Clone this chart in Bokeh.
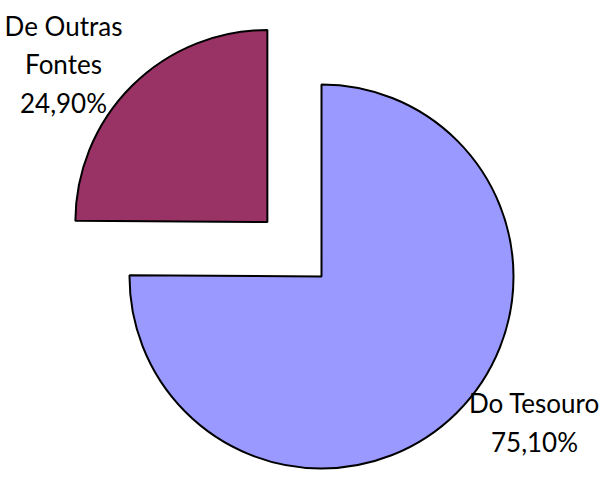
import math
from bokeh.plotting import figure
from bokeh.models import Range1d, ColumnDataSource
from bokeh.core.properties import value
from bokeh.embed import file_html
from bokeh.resources import INLINE

# ---- data ----
categories = ["Do Tesouro", "De Outras Fontes"]
label_lines = [["Do Tesouro"], ["De Outras", "Fontes"]]
percentages = [75.10, 24.90]
colors = ["#9999FF", "#993366"]
explode = [0.0, 0.40]          # fraction of radius

# ---- layout (pixels) ----
W, H = 600, 485
CX, CY = 321, 209              # pie centre (data units == pixels, y up)
R = 192
LINE_GAP = 38.5
# anchor of first label line (centre x, baseline y) for each slice
label_anchor = [(534, 44), (63, 460)]

p = figure(width=W, height=H, output_backend="svg", toolbar_location=None,
           x_range=Range1d(0, W), y_range=Range1d(0, H), min_border=0)
p.axis.visible = False
p.grid.visible = False
p.outline_line_color = None
p.background_fill_color = "white"
p.border_fill_color = "white"

total = sum(percentages)
start = math.pi / 2            # 12 o'clock, clockwise
xs, ys, sa, ea = [], [], [], []
angle = start
for pct, ex in zip(percentages, explode):
    sweep = 2 * math.pi * pct / total
    s_ang = angle - sweep
    e_ang = angle
    mid = (s_ang + e_ang) / 2
    xs.append(CX + ex * R * math.cos(mid))
    ys.append(CY + ex * R * math.sin(mid))
    sa.append(s_ang)
    ea.append(e_ang)
    angle = s_ang

src = ColumnDataSource(dict(x=xs, y=ys, start=sa, end=ea, color=colors, cat=categories))
p.wedge(x="x", y="y", radius=R, start_angle="start", end_angle="end",
        fill_color="color", line_color="black", line_width=2, source=src)

tx, ty, tt = [], [], []
for lines, pct, (ax, ay) in zip(label_lines, percentages, label_anchor):
    all_lines = lines + [f"{pct:.2f}%".replace(".", ",")]
    n = len(all_lines)
    for i, ln in enumerate(all_lines):
        tx.append(ax)
        if ay > H / 2:
            ty.append(ay - i * LINE_GAP)
        else:
            ty.append(ay + (n - 1 - i) * LINE_GAP)
        tt.append(ln)

p.text(x=tx, y=ty, text=tt, text_align="center", text_baseline="alphabetic",
       text_font=value("Lato"), text_font_size="26px", text_color="black")

open("out.html", "w").write(file_html(p, INLINE))
